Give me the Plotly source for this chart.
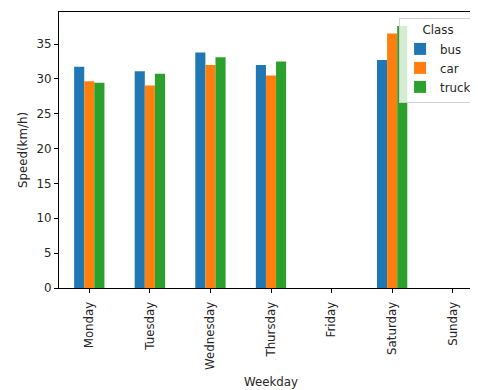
import plotly.graph_objects as go

weekdays = ["Monday", "Tuesday", "Wednesday", "Thursday", "Friday", "Saturday", "Sunday"]
bus = [31.75, 31.1, 33.8, 32.0, None, 32.7, None]
car = [29.65, 29.05, 32.0, 30.5, None, 36.5, None]
truck = [29.45, 30.75, 33.1, 32.5, None, 37.6, None]

series = [("bus", bus, "#1f77b4"), ("car", car, "#ff7f0e"), ("truck", truck, "#2ca02c")]

FONT = "DejaVu Sans"
FS = 11.8

fig = go.Figure()
for name, vals, col in series:
    fig.add_trace(go.Bar(x=weekdays, y=vals, name=name, marker=dict(color=col, line=dict(width=0))))

fig.update_layout(
    width=478, height=390,
    margin=dict(l=51, r=3, t=4, b=110, autoexpand=False),
    paper_bgcolor="white", plot_bgcolor="white",
    barmode="group", bargap=0.5, bargroupgap=0,
    font=dict(family=FONT, size=FS, color="#262626"),
    showlegend=True,
    legend=dict(
        title=dict(text="Class", side="top center", font=dict(family=FONT, size=FS)),
        x=0.986, xanchor="right", y=0.978, yanchor="top",
        bgcolor="rgba(255,255,255,0.8)", bordercolor="#d0d0d0", borderwidth=1,
        font=dict(family=FONT, size=FS), tracegroupgap=0,
    ),
    xaxis=dict(
        type="category", range=[-0.5, 6.5], automargin=False,
        showline=True, linecolor="black", linewidth=1, mirror=True,
        ticks="outside", ticklen=4, tickcolor="black", ticklabelstandoff=4,
        tickangle=-90, showgrid=False, zeroline=False,
        title=dict(text="Weekday", standoff=8, font=dict(family=FONT, size=FS)),
    ),
    yaxis=dict(
        range=[0, 39.6], automargin=False,
        tickvals=[0, 5, 10, 15, 20, 25, 30, 35],
        showline=True, linecolor="black", linewidth=1,
        ticks="outside", ticklen=4, tickcolor="black",
        showgrid=False, zeroline=False,
        title=dict(text="Speed(km/h)", standoff=6, font=dict(family=FONT, size=FS)),
    ),
)

fig.write_html("out.html")
